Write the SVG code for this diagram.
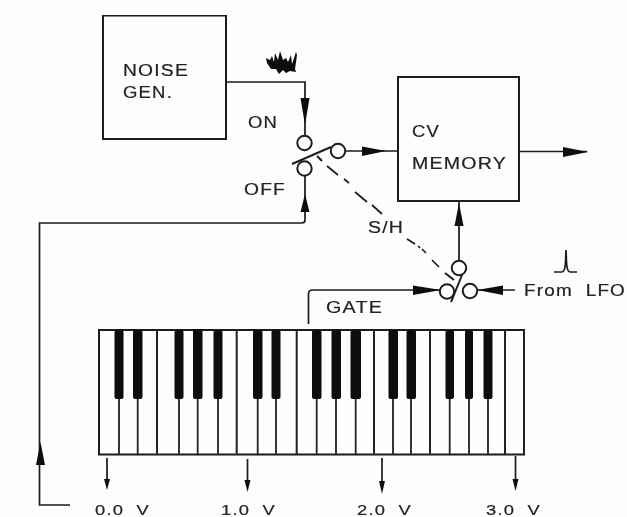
<svg xmlns="http://www.w3.org/2000/svg" width="627" height="517" viewBox="0 0 627 517">
<style>
.l{fill:none;stroke:#1c1c1c;stroke-width:1.7}
.s{fill:none;stroke:#1c1c1c;stroke-width:2}
.b{fill:none;stroke:#1c1c1c;stroke-width:2}
.h{fill:#111;stroke:none}
.c{fill:#fdfdfd;stroke:#1c1c1c;stroke-width:2}
.t{font-family:"Liberation Sans",Arial,sans-serif;font-size:16px;fill:#222;stroke:#222;stroke-width:0.2px;letter-spacing:1px;white-space:pre}
.v{font-size:15.500px}
.k{fill:#0c0c0c;stroke:none}
.w{stroke:#222;stroke-width:1.8;fill:none}
.W{stroke:#222;stroke-width:2;fill:none}
</style>
<defs><filter id="scan" x="0" y="0" width="100%" height="100%"><feGaussianBlur stdDeviation="0.35"/></filter></defs>
<rect width="627" height="517" fill="#fdfdfd"/>
<g filter="url(#scan)">
<g id="connectors">
<path class="l" d="M226 82H305V137"/>
<polygon class="h" points="300.500,98 309.500,98 305,125"/>
<path class="l" d="M305 176V220Q305 223 302 223H39.500V505H70"/>
<polygon class="h" points="300.500,212 309.500,212 305,194"/>
<polygon class="h" points="36,465 45,465 40.500,442"/>
<path class="l" d="M344 151H398"/>
<polygon class="h" points="362,146.500 362,156 386,151"/>
<path class="l" d="M519 151.500H587"/>
<polygon class="h" points="563,147 563,157 588,152"/>
<path class="l" d="M459 201V261"/>
<polygon class="h" points="454.500,226 463.500,226 459,203"/>
<path class="l" d="M308.500 324V294Q308.500 290 312.500 290H440"/>
<polygon class="h" points="413,285.500 413,295 441,290"/>
<path class="l" d="M477 290H515"/>
<polygon class="h" points="503,285.500 503,295 477,290"/>
<path class="l" d="M327 166L338 175M344 179L349 183M355 192L367 202M372 205L382 214M407 239L415 244M418 246L420 248M422 249L426 253M432 260L439 267"/>
<path class="l" d="M107 458V483"/><polygon class="h" points="104,479 110,479 107,490"/>
<path class="l" d="M247.500 459V485"/><polygon class="h" points="244.500,480 250.500,480 247.500,492"/>
<path class="l" d="M382 458V486"/><polygon class="h" points="379,481 385,481 382,494"/>
<path class="l" d="M515.500 456V484"/><polygon class="h" points="512.500,479 518.500,479 515.500,491"/>
</g>
<g id="noise-gen"><rect class="b" x="103" y="15.500" width="123" height="123.500"/><text class="t" x="123" y="75.500" textLength="66" lengthAdjust="spacingAndGlyphs">NOISE</text><text class="t" x="123" y="97.500" textLength="50" lengthAdjust="spacingAndGlyphs">GEN.</text></g>
<g id="noise-signal"><polygon fill="#0c0c0c" points="266,58 270,60 272,56 274,62 275,53 278,60 280,51 283,60 286,58 288,62 291,55 292,64 296,52 297,55 295,69 296,72 290,71 286,73 283,70 279,74 276,69 271,69 267,63"/></g>
<g id="noise-switch">
<text class="t" x="248" y="127.500" textLength="30" lengthAdjust="spacingAndGlyphs">ON</text><text class="t" x="244" y="194.500" textLength="42" lengthAdjust="spacingAndGlyphs">OFF</text>
<circle class="c" cx="304.500" cy="143" r="7.200"/><circle class="c" cx="304.500" cy="168.500" r="7.200"/><circle class="c" cx="338" cy="151" r="7.200"/>
<path class="s" d="M292 164L331 147M317 156L322 161"/>
</g>
<g id="cv-memory"><rect class="b" x="398" y="77" width="121" height="124"/><text class="t" x="412" y="136.500" textLength="28" lengthAdjust="spacingAndGlyphs">CV</text><text class="t" x="412" y="168.500" textLength="95" lengthAdjust="spacingAndGlyphs">MEMORY</text></g>
<g id="sh-label"><text class="t" x="368" y="232.500" textLength="36" lengthAdjust="spacingAndGlyphs">S/H</text></g>
<g id="gate-switch">
<circle class="c" cx="459" cy="268" r="7.200"/><circle class="c" cx="447" cy="291.500" r="7.200"/><circle class="c" cx="470" cy="291" r="7.200"/>
<path class="s" d="M462 275Q456 290 451 302M445 273L454 280"/>
<text class="t" x="326" y="313" textLength="57" lengthAdjust="spacingAndGlyphs">GATE</text>
</g>
<g id="lfo"><path class="l" d="M554 272H562Q565 272 565.500 262L566 250L566.500 262Q567 272 570 272H577"/><text class="t" x="524" y="295.500" textLength="102" lengthAdjust="spacingAndGlyphs">From  LFO</text></g>
<g id="keyboard">
<rect x="99" y="330" width="425" height="124.500" fill="#fefefe" stroke="#1c1c1c" stroke-width="2"/>
<path class="W" d="M157 330V455M236.700 330V455M296.700 330V455M374 330V455M430 330V455M505 330V455"/>
<path class="w" d="M119 399V455M137.700 399V455M179 399V455M197.700 399V455M218 399V455M257.700 399V455M276 399V455M316.700 399V455M336 399V455M355.700 399V455M393 399V455M411 399V455M449.700 399V455M469 399V455M488 399V455"/>
<path class="W" stroke-width="2.500" d="M524 330V455"/>
<g class="k">
<rect x="114.500" y="330" width="9" height="69" rx="2"/><rect x="133" y="330" width="9.500" height="69" rx="2"/><rect x="174.500" y="330" width="9" height="69" rx="2"/><rect x="193" y="329" width="9.500" height="70" rx="2"/><rect x="213.500" y="330" width="9" height="69" rx="2"/><rect x="253" y="330" width="9.500" height="69" rx="2"/><rect x="271.500" y="330" width="9" height="69" rx="2"/><rect x="312" y="330" width="9.500" height="69" rx="2"/><rect x="331.500" y="330" width="9.500" height="69" rx="2"/><rect x="350.500" y="330" width="10.500" height="69" rx="2"/><rect x="388.500" y="330" width="9.500" height="69" rx="2"/><rect x="406.500" y="330" width="9.500" height="69" rx="2"/><rect x="445.500" y="330" width="8.500" height="69" rx="2"/><rect x="465" y="330" width="8" height="69" rx="2"/><rect x="483.500" y="330" width="9" height="69" rx="2"/>
</g>
</g>
<g id="voltages">
<text class="t v" x="95" y="515" textLength="55" lengthAdjust="spacingAndGlyphs">0.0  V</text>
<text class="t v" x="221" y="515" textLength="55" lengthAdjust="spacingAndGlyphs">1.0  V</text>
<text class="t v" x="357" y="515" textLength="55" lengthAdjust="spacingAndGlyphs">2.0  V</text>
<text class="t v" x="486" y="515" textLength="55" lengthAdjust="spacingAndGlyphs">3.0  V</text>
</g>
</g>
</svg>
